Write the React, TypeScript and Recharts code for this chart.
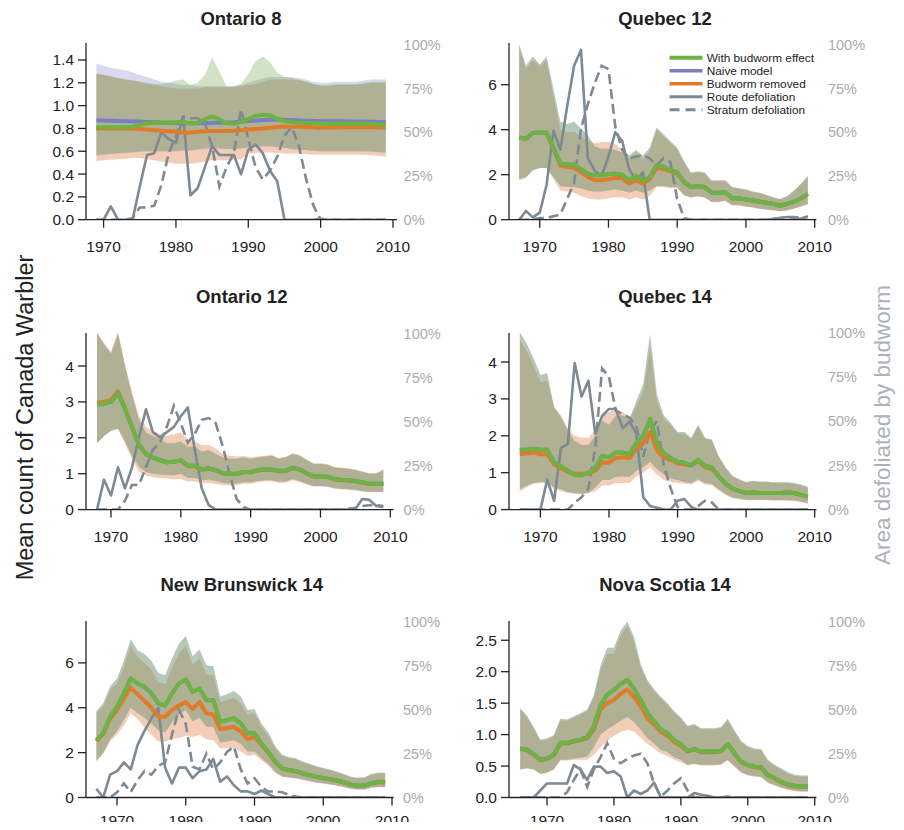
import React from 'react';
import { ComposedChart, Line, Area, XAxis, YAxis } from 'recharts';

const FONT = '"Liberation Sans", Arial, Helvetica, sans-serif';

const GREEN = '#6cb33f';
const BLUE = '#7a7fc2';
const ORANGE = '#e07b2a';
const GRAY = '#7e8992';
const BAND_GREEN = '#66a23a';
const BAND_BLUE = '#7d80c6';
const BAND_ORANGE = '#d45812';
const BAND_ALPHA = 0.3;

const YEAR_TICKS = [1970, 1980, 1990, 2000, 2010];
const PCT_TICKS = [0, 25, 50, 75, 100];

// ---------- Ontario 8 (1969-2009) ----------
const on8Start = 1969;
const on8Green = [0.81, 0.81, 0.81, 0.81, 0.81, 0.815, 0.83, 0.845, 0.85, 0.85, 0.85,
  0.855, 0.86, 0.84, 0.85, 0.88, 0.905, 0.88, 0.845, 0.84, 0.855,
  0.885, 0.91, 0.92, 0.915, 0.885, 0.865, 0.855, 0.85, 0.85, 0.845,
  0.84, 0.84, 0.84, 0.84, 0.84, 0.84, 0.84, 0.84, 0.835, 0.83];
const on8Blue = [0.87, 0.87, 0.868, 0.866, 0.864, 0.862, 0.86, 0.857, 0.855, 0.852, 0.85,
  0.848, 0.846, 0.845, 0.845, 0.846, 0.848, 0.85, 0.852, 0.855, 0.86,
  0.865, 0.87, 0.874, 0.876, 0.876, 0.875, 0.873, 0.87, 0.867, 0.865,
  0.863, 0.862, 0.862, 0.862, 0.861, 0.86, 0.86, 0.858, 0.856, 0.855];
const on8Orange = [0.8, 0.8, 0.8, 0.8, 0.8, 0.8, 0.795, 0.79, 0.785, 0.78, 0.775,
  0.77, 0.765, 0.765, 0.77, 0.775, 0.778, 0.778, 0.778, 0.78, 0.785,
  0.79, 0.795, 0.8, 0.805, 0.812, 0.815, 0.815, 0.815, 0.812, 0.81,
  0.806, 0.806, 0.808, 0.81, 0.81, 0.81, 0.81, 0.81, 0.808, 0.805];
const on8GreenHi = [1.28, 1.27, 1.26, 1.24, 1.23, 1.22, 1.21, 1.2, 1.19, 1.19, 1.2,
  1.22, 1.23, 1.18, 1.2, 1.27, 1.42, 1.3, 1.17, 1.17, 1.19,
  1.28, 1.39, 1.43, 1.38, 1.29, 1.25, 1.24, 1.23, 1.21, 1.19,
  1.18, 1.18, 1.19, 1.19, 1.19, 1.19, 1.2, 1.21, 1.21, 1.21];
const on8GreenLo = [0.57, 0.575, 0.58, 0.585, 0.59, 0.595, 0.6, 0.6, 0.6, 0.6, 0.6,
  0.6, 0.61, 0.61, 0.62, 0.63, 0.64, 0.63, 0.62, 0.62, 0.625,
  0.635, 0.645, 0.65, 0.645, 0.64, 0.63, 0.62, 0.615, 0.61, 0.605,
  0.6, 0.6, 0.6, 0.6, 0.6, 0.6, 0.6, 0.6, 0.595, 0.59];
const on8BlueHi = [1.37, 1.35, 1.33, 1.32, 1.31, 1.29, 1.27, 1.25, 1.23, 1.21, 1.2,
  1.19, 1.18, 1.18, 1.17, 1.17, 1.17, 1.17, 1.17, 1.17, 1.18,
  1.2, 1.22, 1.24, 1.25, 1.25, 1.25, 1.25, 1.24, 1.23, 1.21,
  1.2, 1.2, 1.21, 1.21, 1.21, 1.21, 1.22, 1.23, 1.23, 1.23];
const on8BlueLo = [0.56, 0.565, 0.575, 0.58, 0.585, 0.59, 0.595, 0.6, 0.6, 0.6, 0.6,
  0.6, 0.605, 0.605, 0.61, 0.615, 0.62, 0.62, 0.62, 0.62, 0.625,
  0.63, 0.635, 0.64, 0.64, 0.635, 0.63, 0.62, 0.615, 0.61, 0.605,
  0.6, 0.6, 0.6, 0.6, 0.6, 0.6, 0.6, 0.595, 0.59, 0.585];
const on8OrangeHi = [1.28, 1.27, 1.25, 1.24, 1.23, 1.22, 1.21, 1.19, 1.18, 1.17, 1.16,
  1.15, 1.15, 1.15, 1.15, 1.16, 1.16, 1.16, 1.16, 1.16, 1.17,
  1.18, 1.19, 1.21, 1.23, 1.23, 1.23, 1.23, 1.22, 1.21, 1.19,
  1.17, 1.17, 1.18, 1.18, 1.18, 1.18, 1.19, 1.2, 1.2, 1.2];
const on8OrangeLo = [0.515, 0.52, 0.525, 0.53, 0.535, 0.54, 0.54, 0.53, 0.52, 0.51, 0.5,
  0.49, 0.49, 0.49, 0.5, 0.51, 0.52, 0.52, 0.52, 0.525, 0.53,
  0.58, 0.585, 0.59, 0.59, 0.585, 0.58, 0.58, 0.58, 0.575, 0.57,
  0.57, 0.57, 0.57, 0.57, 0.57, 0.57, 0.57, 0.565, 0.56, 0.555];
const on8Route = [0, 0, 7.6, 0, 0, 0, 19, 37, 38, 50, 46,
  44, 59, 14, 18, 30, 42, 37, 37, 37, 26,
  40, 43, 38, 28, 22, 0, 0, 0, 0, 0,
  0.5, 0, 0, 0, 0, 0, 0, 0, 0, 0];
const on8Stratum = [0, 0, 0, 0, 0, 1, 7, 7, 8, 20, 38,
  48, 59, 58, 58, 55, 42, 19, 30, 38, 63,
  46, 30, 23, 28, 36, 48, 53, 42, 23, 8,
  0, 0, 0, 0, 0, 0, 0, 0, 0, 0];

// ---------- Quebec 12 (1967-2009) ----------
const qc12Start = 1967;
const qc12Green = [3.65, 3.6, 3.85, 3.87, 3.87, 3.2, 2.5, 2.45, 2.45, 2.25,
  2.05, 1.97, 1.97, 2.03, 2.04, 2.0, 1.75, 1.95, 1.73, 1.88,
  2.42, 2.35, 2.2, 2.1, 1.68, 1.45, 1.5, 1.45, 1.2, 1.2,
  1.22, 0.95, 0.95, 0.9, 0.85, 0.8, 0.75, 0.7, 0.62, 0.7,
  0.8, 0.95, 1.15];
const qc12Orange = [3.65, 3.6, 3.85, 3.87, 3.85, 3.15, 2.4, 2.35, 2.3, 2.1,
  1.9, 1.75, 1.75, 1.8, 1.85, 1.85, 1.6, 1.75, 1.6, 1.8,
  2.3, 2.25, 2.15, 2.05, 1.66, 1.44, 1.48, 1.44, 1.2, 1.2,
  1.21, 0.95, 0.94, 0.9, 0.85, 0.8, 0.75, 0.7, 0.62, 0.7,
  0.8, 0.95, 1.14];
const qc12GreenHi = [7.8, 6.85, 7.25, 6.9, 7.25, 5.8, 4.35, 4.25, 4.35, 4.05,
  3.75, 3.25, 3.15, 3.15, 3.1, 3.0, 2.85, 3.1, 2.85, 3.2,
  4.1, 3.8, 3.5, 3.2, 2.6, 2.1, 2.15, 2.1, 1.75, 1.75,
  1.75, 1.45, 1.4, 1.35, 1.25, 1.2, 1.1, 1.0, 0.92, 1.05,
  1.3, 1.6, 1.95];
const qc12GreenLo = [1.8, 1.9, 2.2, 2.3, 2.3, 1.9, 1.5, 1.45, 1.45, 1.4,
  1.3, 1.25, 1.25, 1.3, 1.35, 1.3, 1.2, 1.3, 1.2, 1.3,
  1.5, 1.5, 1.45, 1.45, 1.1, 1.0, 1.05, 1.0, 0.8, 0.8,
  0.85, 0.65, 0.65, 0.6, 0.55, 0.5, 0.45, 0.42, 0.38, 0.42,
  0.5, 0.6, 0.7];
const qc12OrangeHi = [7.6, 6.7, 7.1, 6.8, 7.1, 5.5, 4.0, 3.9, 3.9, 3.7,
  3.5, 3.4, 3.45, 3.45, 3.35, 3.1, 2.75, 2.95, 2.65, 3.05,
  4.0, 3.7, 3.4, 3.15, 2.55, 2.05, 2.1, 2.05, 1.7, 1.7,
  1.7, 1.42, 1.37, 1.32, 1.22, 1.17, 1.07, 0.98, 0.9, 1.02,
  1.27, 1.56, 1.9];
const qc12OrangeLo = [1.75, 1.85, 2.2, 2.3, 2.3, 1.8, 1.3, 1.25, 1.2, 1.05,
  0.95, 0.9, 0.9, 0.95, 1.0, 1.0, 0.9, 1.0, 0.9, 1.05,
  1.45, 1.45, 1.4, 1.4, 1.08, 0.98, 1.03, 0.98, 0.78, 0.78,
  0.83, 0.63, 0.63, 0.58, 0.53, 0.48, 0.44, 0.41, 0.37, 0.41,
  0.49, 0.58, 0.68];
const qc12Route = [0, 5, 1.3, 4, 20, 51, 40, 65, 88, 97,
  35, 28, 25, 36, 50, 45, 29, 22, 27, 0,
  0, 0, 0, 0, 0, 0, 0, 0, 0, 0,
  0, 0, 0, 0, 0, 0, 0, 0.5, 1, 1.5,
  1, 0.5, 2];
const qc12Stratum = [0, 0, 0, 1, 1, 2, 3, 12, 21, 52,
  66, 78, 88, 86, 53, 40, 35, 36, 37, 35,
  31, 35, 33, 12, 1, 0, 0, 0, 0, 0,
  0, 0, 0, 0, 0, 0, 0, 0.5, 1, 1.5,
  1.5, 1, 1.5];

// ---------- Ontario 12 (1968-2009) ----------
const on12Start = 1968;
const on12Green = [2.93, 2.95, 3.0, 3.25, 2.8, 2.3, 1.8, 1.55, 1.45, 1.38,
  1.32, 1.33, 1.38, 1.22, 1.22, 1.12, 1.15, 1.1, 1.02, 1.0,
  1.0, 1.05, 1.05, 1.1, 1.12, 1.12, 1.08, 1.08, 1.17, 1.12,
  1.02, 0.93, 0.93, 0.92, 0.85, 0.83, 0.82, 0.8, 0.76, 0.72,
  0.72, 0.73];
const on12Orange = [2.98, 3.0, 3.05, 3.3, 2.82, 2.3, 1.8, 1.55, 1.45, 1.38,
  1.32, 1.33, 1.37, 1.21, 1.21, 1.11, 1.14, 1.09, 1.01, 0.99,
  0.99, 1.04, 1.04, 1.09, 1.11, 1.11, 1.07, 1.07, 1.16, 1.11,
  1.01, 0.92, 0.92, 0.91, 0.84, 0.82, 0.81, 0.79, 0.75, 0.71,
  0.71, 0.72];
const on12GreenHi = [4.9, 4.6, 4.35, 4.9, 4.0, 3.2, 2.5, 2.15, 2.05, 1.95,
  1.85, 1.85, 1.9, 1.75, 1.75, 1.62, 1.65, 1.55, 1.45, 1.42,
  1.42, 1.45, 1.42, 1.45, 1.48, 1.5, 1.42, 1.45, 1.55, 1.5,
  1.38, 1.27, 1.27, 1.25, 1.17, 1.15, 1.13, 1.1, 1.05, 1.0,
  1.0, 1.1];
const on12GreenLo = [1.85, 2.05, 2.2, 2.25, 1.9, 1.5, 1.2, 1.05, 1.0, 0.98,
  0.97, 0.95, 1.0, 0.88, 0.88, 0.82, 0.84, 0.8, 0.75, 0.73,
  0.73, 0.76, 0.76, 0.8, 0.82, 0.82, 0.78, 0.78, 0.85, 0.8,
  0.72, 0.66, 0.66, 0.65, 0.6, 0.58, 0.57, 0.55, 0.52, 0.5,
  0.5, 0.5];
const on12OrangeHi = [4.95, 4.65, 4.4, 4.95, 4.05, 3.3, 2.6, 2.3, 2.2, 2.1,
  2.05, 2.1, 2.15, 1.95, 1.9, 1.8, 1.8, 1.7, 1.55, 1.5,
  1.48, 1.5, 1.46, 1.48, 1.5, 1.52, 1.44, 1.47, 1.57, 1.52,
  1.4, 1.29, 1.29, 1.27, 1.19, 1.17, 1.15, 1.12, 1.07, 1.02,
  1.02, 1.12];
const on12OrangeLo = [1.85, 2.05, 2.2, 2.25, 1.85, 1.4, 1.05, 0.95, 0.9, 0.88,
  0.87, 0.84, 0.85, 0.78, 0.78, 0.74, 0.75, 0.72, 0.68, 0.67,
  0.68, 0.72, 0.72, 0.76, 0.79, 0.79, 0.75, 0.75, 0.82, 0.77,
  0.7, 0.64, 0.64, 0.63, 0.58, 0.56, 0.55, 0.53, 0.5, 0.48,
  0.48, 0.48];
const on12Route = [0, 17, 8, 24, 12, 24, 41, 57, 44, 41,
  44, 47, 53, 58, 34, 12, 2.5, 0, 0, 0,
  0, 0, 0, 0, 0, 0, 0, 0, 0, 0,
  0, 0, 0, 0, 0, 0, 0, 0.5, 6, 5.5,
  2, 1.5];
const on12Stratum = [0, 0, 0, 0, 5, 14, 14, 24, 34, 38,
  47, 59, 49, 38, 43, 51, 52, 49, 36, 20,
  6, 1.5, 0, 0, 0, 0, 0, 0, 0, 0,
  0, 0, 0, 0, 0, 0, 0.5, 1, 2, 2.5,
  2.5, 2];

// ---------- Quebec 14 (1967-2009) ----------
const qc14Start = 1967;
const qc14Green = [1.62, 1.63, 1.65, 1.62, 1.62, 1.28, 1.18, 1.05, 0.94, 0.93,
  1.0, 1.12, 1.45, 1.42, 1.55, 1.55, 1.5, 1.8, 2.0, 2.45,
  1.82, 1.52, 1.4, 1.3, 1.27, 1.2, 1.35, 1.18, 1.14, 0.9,
  0.7, 0.57, 0.5, 0.45, 0.46, 0.45, 0.45, 0.45, 0.45, 0.46,
  0.45, 0.4, 0.35];
const qc14Orange = [1.5, 1.52, 1.55, 1.5, 1.5, 1.22, 1.12, 1.02, 0.97, 0.97,
  0.98, 1.05, 1.28, 1.27, 1.4, 1.42, 1.4, 1.65, 1.8, 2.1,
  1.6, 1.4, 1.35, 1.25, 1.23, 1.2, 1.32, 1.15, 1.1, 0.9,
  0.7, 0.57, 0.5, 0.45, 0.46, 0.45, 0.45, 0.45, 0.45, 0.46,
  0.45, 0.4, 0.35];
const qc14GreenHi = [4.8, 4.5, 4.1, 3.65, 3.7, 2.75, 2.5, 2.15, 1.85, 1.75,
  1.75, 2.0, 2.4, 2.3, 2.55, 2.55, 2.45, 2.95, 3.4, 4.75,
  3.1, 2.55, 2.35, 2.1, 2.1, 1.95, 2.3, 1.95, 1.9, 1.45,
  1.15, 0.92, 0.82, 0.75, 0.78, 0.76, 0.76, 0.74, 0.74, 0.74,
  0.72, 0.68, 0.62];
const qc14GreenLo = [0.55, 0.65, 0.72, 0.75, 0.75, 0.6, 0.55, 0.48, 0.45, 0.43,
  0.45, 0.6, 0.8, 0.8, 0.88, 0.9, 0.88, 1.05, 1.15, 1.3,
  1.1, 0.95, 0.85, 0.8, 0.75, 0.72, 0.82, 0.72, 0.7, 0.55,
  0.42, 0.33, 0.3, 0.27, 0.27, 0.27, 0.27, 0.26, 0.26, 0.26,
  0.25, 0.22, 0.18];
const qc14OrangeHi = [4.6, 4.3, 3.9, 3.45, 3.5, 2.8, 2.55, 2.2, 2.0, 1.95,
  1.95, 2.15, 2.55, 2.65, 2.7, 2.65, 2.5, 2.8, 3.2, 4.4,
  2.9, 2.45, 2.3, 2.05, 2.05, 1.92, 2.25, 1.92, 1.87, 1.43,
  1.13, 0.9, 0.8, 0.73, 0.76, 0.74, 0.74, 0.72, 0.72, 0.72,
  0.7, 0.66, 0.6];
const qc14OrangeLo = [0.5, 0.6, 0.7, 0.72, 0.72, 0.55, 0.5, 0.45, 0.42, 0.42,
  0.45, 0.5, 0.65, 0.65, 0.72, 0.72, 0.72, 0.9, 1.0, 1.15,
  0.95, 0.8, 0.75, 0.72, 0.7, 0.68, 0.78, 0.68, 0.66, 0.52,
  0.4, 0.31, 0.28, 0.25, 0.25, 0.25, 0.25, 0.24, 0.24, 0.24,
  0.23, 0.2, 0.16];
const qc14Route = [0, 0, 0, 0, 17, 5, 35, 37, 83, 64,
  73, 43, 53, 57, 57, 46, 50, 43, 7, 2,
  1, 0, 0, 5, 6, 1.5, 0, 0, 0, 0,
  0, 0, 0, 0, 0, 0, 0, 0, 0, 0,
  0, 0, 0];
const qc14Stratum = [0, 0, 0, 0, 0, 0, 0, 0, 4, 7,
  12, 35, 80, 75, 56, 54, 52, 47, 30, 45,
  50, 25, 12, 1.5, 0, 0, 2, 5, 4, 0,
  0, 0, 0, 0, 0, 0, 0, 0, 0, 0,
  0, 0, 0];

// ---------- New Brunswick 14 (1967-2009) ----------
const nbStart = 1967;
const nbGreen = [2.56, 2.86, 3.6, 4.04, 4.64, 5.3, 5.08, 4.93, 4.64, 4.19,
  4.1, 4.64, 5.08, 5.26, 4.7, 4.86, 4.34, 4.34, 3.38, 3.45,
  3.53, 3.3, 2.86, 2.86, 2.41, 2.04, 1.6, 1.3, 1.22, 1.18,
  1.08, 1.0, 0.93, 0.87, 0.82, 0.76, 0.68, 0.57, 0.53, 0.53,
  0.64, 0.7, 0.68];
const nbOrange = [2.5, 2.85, 3.5, 3.9, 4.4, 4.9, 4.6, 4.3, 4.0, 3.6,
  3.6, 3.9, 4.1, 4.25, 3.95, 4.25, 3.75, 3.7, 3.05, 3.1,
  3.15, 2.95, 2.6, 2.7, 2.35, 2.0, 1.58, 1.29, 1.21, 1.17,
  1.07, 0.99, 0.92, 0.86, 0.81, 0.75, 0.67, 0.56, 0.52, 0.52,
  0.63, 0.69, 0.67];
const nbGreenHi = [3.85, 4.2, 4.95, 5.3, 6.1, 7.05, 6.55, 6.4, 6.1, 5.55,
  5.45, 6.2, 6.85, 7.2, 6.3, 6.6, 5.9, 5.85, 4.5, 4.6,
  4.75, 4.5, 3.9, 3.95, 3.3, 2.9, 2.3, 1.9, 1.8, 1.75,
  1.6, 1.5, 1.4, 1.32, 1.25, 1.15, 1.05, 0.92, 0.88, 0.9,
  1.05, 1.1, 1.1];
const nbGreenLo = [1.65, 2.0, 2.6, 2.95, 3.45, 4.0, 3.75, 3.55, 3.3, 3.0,
  2.9, 3.35, 3.7, 3.9, 3.4, 3.55, 3.15, 3.15, 2.45, 2.5,
  2.55, 2.4, 2.05, 2.05, 1.75, 1.5, 1.15, 0.95, 0.9, 0.87,
  0.8, 0.74, 0.68, 0.63, 0.59, 0.54, 0.48, 0.4, 0.37, 0.37,
  0.45, 0.48, 0.47];
const nbOrangeHi = [3.75, 4.05, 4.8, 5.1, 5.8, 6.75, 6.25, 6.0, 5.7, 5.15,
  5.05, 5.75, 6.4, 6.75, 5.9, 6.2, 5.5, 5.45, 4.25, 4.35,
  4.45, 4.2, 3.7, 3.75, 3.15, 2.75, 2.2, 1.85, 1.75, 1.7,
  1.56, 1.47, 1.37, 1.29, 1.22, 1.12, 1.02, 0.9, 0.86, 0.88,
  1.02, 1.07, 1.07];
const nbOrangeLo = [1.6, 1.95, 2.5, 2.8, 3.2, 3.75, 3.5, 3.1, 2.8, 2.5,
  2.5, 2.6, 2.65, 2.75, 2.7, 2.8, 2.6, 2.55, 2.2, 2.2,
  2.2, 2.05, 1.85, 1.9, 1.65, 1.45, 1.1, 0.93, 0.88, 0.85,
  0.78, 0.72, 0.66, 0.61, 0.57, 0.52, 0.46, 0.38, 0.35, 0.35,
  0.43, 0.46, 0.45];
const nbRoute = [5, 0, 13, 15, 20, 16, 30, 38, 45, 51,
  17, 8, 17, 17, 11, 15, 16, 22, 9, 12,
  7, 3.5, 3.5, 2, 4, 2, 0, 0, 0, 0,
  0, 0, 0, 0, 0, 0, 0, 0, 0, 0,
  0, 0, 0];
const nbStratum = [0, 0, 0, 3, 8, 3, 10, 15, 13, 18,
  20, 36, 50, 42, 17.5, 16, 25, 16, 20, 26,
  29, 16, 8, 11, 6, 3.4, 3.4, 3, 1.5, 0.5,
  0, 0, 0, 0, 0, 0, 0, 0, 0, 0,
  0, 0, 0];

// ---------- Nova Scotia 14 (1966-2009) ----------
const nsStart = 1966;
const nsGreen = [0.78, 0.76, 0.69, 0.6, 0.62, 0.68, 0.87, 0.87, 0.9, 0.92,
  0.96, 1.13, 1.47, 1.63, 1.71, 1.81, 1.87, 1.73, 1.55, 1.34,
  1.21, 1.08, 1.02, 0.91, 0.85, 0.74, 0.77, 0.73, 0.73, 0.73,
  0.74, 0.85, 0.71, 0.57, 0.52, 0.49, 0.48, 0.36, 0.31, 0.25,
  0.21, 0.185, 0.175, 0.175];
const nsOrange = [0.77, 0.75, 0.68, 0.59, 0.61, 0.67, 0.86, 0.86, 0.89, 0.91,
  0.94, 1.08, 1.4, 1.5, 1.55, 1.65, 1.72, 1.6, 1.45, 1.26,
  1.16, 1.04, 0.98, 0.88, 0.82, 0.73, 0.76, 0.72, 0.72, 0.72,
  0.73, 0.84, 0.7, 0.56, 0.51, 0.48, 0.47, 0.35, 0.3, 0.24,
  0.2, 0.18, 0.17, 0.17];
const nsGreenHi = [1.42, 1.3, 1.12, 0.92, 0.94, 0.99, 1.25, 1.24, 1.29, 1.34,
  1.4, 1.63, 2.1, 2.38, 2.38, 2.65, 2.8, 2.55, 2.12, 1.87,
  1.72, 1.6, 1.5, 1.37, 1.27, 1.14, 1.17, 1.1, 1.1, 1.1,
  1.12, 1.25, 1.07, 0.9, 0.82, 0.78, 0.77, 0.6, 0.52, 0.46,
  0.4, 0.36, 0.35, 0.35];
const nsGreenLo = [0.45, 0.47, 0.45, 0.38, 0.4, 0.45, 0.6, 0.6, 0.62, 0.63,
  0.65, 0.8, 1.0, 1.08, 1.15, 1.22, 1.28, 1.2, 1.08, 0.94,
  0.86, 0.76, 0.72, 0.64, 0.6, 0.52, 0.54, 0.52, 0.52, 0.52,
  0.53, 0.6, 0.5, 0.4, 0.36, 0.34, 0.33, 0.24, 0.2, 0.16,
  0.13, 0.11, 0.1, 0.1];
const nsOrangeHi = [1.4, 1.28, 1.1, 0.9, 0.92, 0.97, 1.23, 1.22, 1.27, 1.32,
  1.37, 1.58, 2.02, 2.28, 2.28, 2.58, 2.73, 2.48, 2.07, 1.83,
  1.69, 1.57, 1.47, 1.35, 1.25, 1.12, 1.15, 1.08, 1.08, 1.08,
  1.1, 1.23, 1.05, 0.88, 0.8, 0.76, 0.75, 0.58, 0.5, 0.44,
  0.38, 0.34, 0.33, 0.33];
const nsOrangeLo = [0.44, 0.46, 0.44, 0.37, 0.39, 0.44, 0.59, 0.59, 0.6, 0.6,
  0.6, 0.68, 0.8, 0.9, 0.98, 1.04, 1.08, 1.05, 0.95, 0.85,
  0.78, 0.7, 0.66, 0.6, 0.56, 0.51, 0.53, 0.51, 0.51, 0.51,
  0.52, 0.59, 0.49, 0.39, 0.35, 0.33, 0.32, 0.23, 0.19, 0.15,
  0.12, 0.1, 0.09, 0.09];
const nsRoute = [0, 0, 0, 4, 8, 8, 8, 8, 18.5, 16,
  10, 17.6, 17.6, 14, 15, 12, 0, 4, 2, 4,
  8.5, 0, 0, 0, 0, 0, 2.5, 1.5, 1, 0,
  0, 0, 0, 0, 0, 0, 0, 0, 0, 0,
  0, 0, 0, 0];
const nsStratum = [0, 0, 0, 0, 0, 0, 0, 3, 10, 16,
  6, 16, 23, 31, 22, 19.5, 22, 24, 25, 19.5,
  8, 0.5, 4, 8, 11, 4, 0, 0, 0, 0,
  0, 0.5, 0, 0, 0, 0, 0, 0, 0, 0,
  0, 0, 0, 0];

type Panel = {
  title: string;
  start: number;
  green: number[];
  blue: number[];
  orange: number[];
  gLo: number[]; gHi: number[];
  bLo: number[]; bHi: number[];
  oLo: number[]; oHi: number[];
  route: number[];
  stratum: number[];
  yTicks: number[];
  yFixed: number;
  // layout (page pixels)
  left: number; right: number; top: number; bottom: number;
  xMin: number; xMax: number; yMax: number; rMax: number;
  titleX: number; titleY: number; rLabelX: number; xTickMargin: number; xAxisH: number;
};

const panels: Panel[] = [
  {
    title: 'Ontario 8', start: on8Start, green: on8Green, blue: on8Blue, orange: on8Orange,
    gLo: on8GreenLo, gHi: on8GreenHi, bLo: on8BlueLo, bHi: on8BlueHi, oLo: on8OrangeLo, oHi: on8OrangeHi,
    route: on8Route, stratum: on8Stratum, yTicks: [0, 0.2, 0.4, 0.6, 0.8, 1.0, 1.2, 1.4], yFixed: 1,
    left: 85.7, right: 396.7, top: 43.3, bottom: 220, xMin: 1967.57, xMax: 2010.55, yMax: 1.549, rMax: 100.97,
    titleX: 241, titleY: 25, rLabelX: 403.3, xTickMargin: 13, xAxisH: 42,
  },
  {
    title: 'Quebec 12', start: qc12Start, green: qc12Green, blue: qc12Green, orange: qc12Orange,
    gLo: qc12GreenLo, gHi: qc12GreenHi, bLo: qc12GreenLo, bHi: qc12GreenHi, oLo: qc12OrangeLo, oHi: qc12OrangeHi,
    route: qc12Route, stratum: qc12Stratum, yTicks: [0, 2, 4, 6], yFixed: 0,
    left: 509.3, right: 816.7, top: 43.3, bottom: 220, xMin: 1965.53, xMax: 2010.25, yMax: 7.853, rMax: 100.97,
    titleX: 665, titleY: 25, rLabelX: 828.3, xTickMargin: 13, xAxisH: 42,
  },
  {
    title: 'Ontario 12', start: on12Start, green: on12Green, blue: on12Green, orange: on12Orange,
    gLo: on12GreenLo, gHi: on12GreenHi, bLo: on12GreenLo, bHi: on12GreenHi, oLo: on12OrangeLo, oHi: on12OrangeHi,
    route: on12Route, stratum: on12Stratum, yTicks: [0, 1, 2, 3, 4], yFixed: 0,
    left: 85.7, right: 393.3, top: 332.7, bottom: 509.3, xMin: 1966.42, xMax: 2010.47, yMax: 4.92, rMax: 100.3,
    titleX: 241.7, titleY: 302.7, rLabelX: 403.3, xTickMargin: 13, xAxisH: 42,
  },
  {
    title: 'Quebec 14', start: qc14Start, green: qc14Green, blue: qc14Green, orange: qc14Orange,
    gLo: qc14GreenLo, gHi: qc14GreenHi, bLo: qc14GreenLo, bHi: qc14GreenHi, oLo: qc14OrangeLo, oHi: qc14OrangeHi,
    route: qc14Route, stratum: qc14Stratum, yTicks: [0, 1, 2, 3, 4], yFixed: 0,
    left: 509.3, right: 816.7, top: 332.7, bottom: 509.3, xMin: 1965.42, xMax: 2010.25, yMax: 4.786, rMax: 100.0,
    titleX: 665, titleY: 303, rLabelX: 828.3, xTickMargin: 13, xAxisH: 42,
  },
  {
    title: 'New Brunswick 14', start: nbStart, green: nbGreen, blue: nbGreen, orange: nbOrange,
    gLo: nbGreenLo, gHi: nbGreenHi, bLo: nbGreenLo, bHi: nbGreenHi, oLo: nbOrangeLo, oHi: nbOrangeHi,
    route: nbRoute, stratum: nbStratum, yTicks: [0, 2, 4, 6], yFixed: 0,
    left: 85.7, right: 393.3, top: 620.7, bottom: 797.2, xMin: 1965.49, xMax: 2010.23, yMax: 7.867, rMax: 100.6,
    titleX: 241.7, titleY: 590.7, rLabelX: 402.7, xTickMargin: 9.5, xAxisH: 32,
  },
  {
    title: 'Nova Scotia 14', start: nsStart, green: nsGreen, blue: nsGreen, orange: nsOrange,
    gLo: nsGreenLo, gHi: nsGreenHi, bLo: nsGreenLo, bHi: nsGreenHi, oLo: nsOrangeLo, oHi: nsOrangeHi,
    route: nsRoute, stratum: nsStratum, yTicks: [0, 0.5, 1.0, 1.5, 2.0, 2.5], yFixed: 1,
    left: 509.3, right: 816.7, top: 620.7, bottom: 797.2, xMin: 1964.32, xMax: 2010.25, yMax: 2.806, rMax: 100.6,
    titleX: 665, titleY: 590.7, rLabelX: 828.3, xTickMargin: 9.5, xAxisH: 32,
  },
];

const AXW = 60; // space for each y axis
const MT = 16; // top margin, room for the 100% labels

const tickStyle = { fill: '#222', fontSize: 15.5, fontFamily: FONT };
const rTickStyle = { fill: '#a9acb1', fontSize: 14.5, fontFamily: FONT };

function PanelChart({ p }: { p: Panel }) {
  const rows = p.green.map((g, i) => ({
    year: p.start + i,
    g,
    b: p.blue[i],
    o: p.orange[i],
    gBand: [p.gLo[i], p.gHi[i]],
    bBand: [p.bLo[i], p.bHi[i]],
    oBand: [p.oLo[i], p.oHi[i]],
    route: p.route[i],
    stratum: p.stratum[i],
  }));
  const plotW = p.right - p.left;
  const plotH = p.bottom - p.top;
  return (
    <div style={{ position: 'absolute', left: p.left - AXW - 8, top: p.top - MT - 8 }}>
      <ComposedChart
        width={plotW + 2 * AXW}
        height={plotH + MT + p.xAxisH}
        data={rows}
        margin={{ top: MT, right: 0, bottom: 0, left: 0 }}
      >
        <XAxis
          dataKey="year"
          type="number"
          domain={[p.xMin, p.xMax]}
          allowDataOverflow
          ticks={YEAR_TICKS}
          interval={0}
          height={p.xAxisH}
          tickSize={8}
          tickMargin={p.xTickMargin}
          axisLine={{ stroke: '#222', strokeWidth: 1.3 }}
          tickLine={{ stroke: '#222', strokeWidth: 1.3 }}
          tick={tickStyle}
        />
        <YAxis
          yAxisId="left"
          type="number"
          domain={[0, p.yMax]}
          allowDataOverflow
          ticks={p.yTicks}
          interval={0}
          width={AXW}
          tickSize={8}
          tickMargin={4}
          tickFormatter={(v: number) => v.toFixed(p.yFixed)}
          axisLine={{ stroke: '#222', strokeWidth: 1.3 }}
          tickLine={{ stroke: '#222', strokeWidth: 1.3 }}
          tick={tickStyle}
        />
        <YAxis
          yAxisId="right"
          orientation="right"
          type="number"
          domain={[0, p.rMax]}
          allowDataOverflow
          ticks={PCT_TICKS}
          interval={0}
          width={AXW}
          tickSize={0}
          tickMargin={p.rLabelX - p.right}
          tickFormatter={(v: number) => `${v}%`}
          axisLine={false}
          tickLine={false}
          tick={rTickStyle}
        />
        <Line yAxisId="right" type="linear" dataKey="route" stroke={GRAY} strokeWidth={2.6}
          dot={false} activeDot={false} isAnimationActive={false} strokeLinejoin="round" />
        <Line yAxisId="right" type="linear" dataKey="stratum" stroke={GRAY} strokeWidth={2.6}
          strokeDasharray="10 5" dot={false} activeDot={false} isAnimationActive={false} />
        <Area yAxisId="left" type="linear" dataKey="oBand" stroke="none" fill={BAND_ORANGE}
          fillOpacity={BAND_ALPHA} dot={false} activeDot={false} isAnimationActive={false} />
        <Area yAxisId="left" type="linear" dataKey="bBand" stroke="none" fill={BAND_BLUE}
          fillOpacity={BAND_ALPHA} dot={false} activeDot={false} isAnimationActive={false} />
        <Area yAxisId="left" type="linear" dataKey="gBand" stroke="none" fill={BAND_GREEN}
          fillOpacity={BAND_ALPHA} dot={false} activeDot={false} isAnimationActive={false} />
        <Line yAxisId="left" type="linear" dataKey="o" stroke={ORANGE} strokeWidth={4}
          dot={false} activeDot={false} isAnimationActive={false} strokeLinejoin="round" />
        <Line yAxisId="left" type="linear" dataKey="b" stroke={BLUE} strokeWidth={4}
          dot={false} activeDot={false} isAnimationActive={false} strokeLinejoin="round" />
        <Line yAxisId="left" type="linear" dataKey="g" stroke={GREEN} strokeWidth={4}
          dot={false} activeDot={false} isAnimationActive={false} strokeLinejoin="round" />
      </ComposedChart>
    </div>
  );
}

const legendItems = [
  { label: 'With budworm effect', color: GREEN, width: 4, dash: undefined as string | undefined },
  { label: 'Naive model', color: BLUE, width: 3.5, dash: undefined },
  { label: 'Budworm removed', color: ORANGE, width: 3.5, dash: undefined },
  { label: 'Route defoliation', color: GRAY, width: 3, dash: undefined },
  { label: 'Stratum defoliation', color: GRAY, width: 3, dash: '10 6' },
];

export default function App() {
  return (
    <div style={{ position: 'relative', width: 888, height: 814, fontFamily: FONT }}>
      <style>{'.recharts-surface { overflow: visible; }'}</style>
      {panels.map((p) => (
        <PanelChart key={p.title} p={p} />
      ))}
      <svg
        width={888}
        height={814}
        style={{ position: 'absolute', left: 0, top: 0, pointerEvents: 'none', overflow: 'visible' }}
      >
        <g transform="translate(-8, -8)">
          {panels.map((p) => (
            <text key={p.title} x={p.titleX} y={p.titleY} textAnchor="middle"
              fontFamily={FONT} fontSize={18.5} fontWeight="bold" fill="#222">
              {p.title}
            </text>
          ))}
          <text transform="translate(33, 417.5) rotate(-90)" textAnchor="middle"
            fontFamily={FONT} fontSize={23.5} fill="#222">
            Mean count of Canada Warbler
          </text>
          <text transform="translate(889.5, 425) rotate(-90)" textAnchor="middle"
            fontFamily={FONT} fontSize={22.5} fill="#aeb1b6">
            Area defoliated by budworm
          </text>
          {legendItems.map((it, i) => (
            <g key={it.label}>
              <line x1={669.5} x2={702.5} y1={57.7 + 13 * i} y2={57.7 + 13 * i}
                stroke={it.color} strokeWidth={it.width} strokeDasharray={it.dash} />
              <text x={706.7} y={62.3 + 13 * i} fontFamily={FONT} fontSize={11.8} fill="#222">
                {it.label}
              </text>
            </g>
          ))}
        </g>
      </svg>
    </div>
  );
}
